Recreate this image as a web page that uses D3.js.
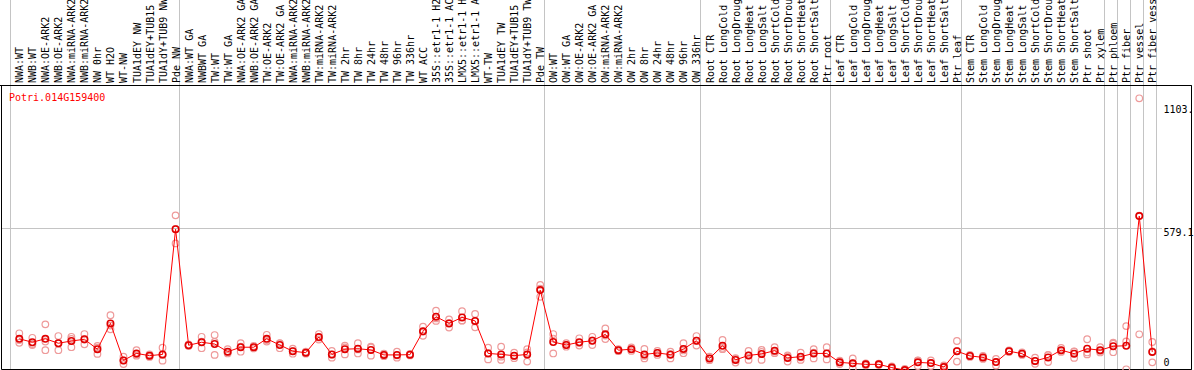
<!DOCTYPE html>
<html>
<head>
<meta charset="utf-8">
<script src="https://cdn.jsdelivr.net/npm/d3@7/dist/d3.min.js"></script>
<style>
  body { margin: 0; background: #fff; }
  text { font-family: "DejaVu Sans Mono", monospace; font-size: 10px; }
</style>
</head>
<body>
<div id="chart"></div>
<script>
// sample names, in plot order
const samples = [
  "NWA:WT", "NWB:WT", "NWA:OE-ARK2", "NWB:OE-ARK2", "NWA:miRNA-ARK2", "NWB:miRNA-ARK2",
  "NW 0hr", "WT H2O", "WT-NW", "TUA1dEY NW", "TUA1dEY+TUB15 NW", "TUA1dY+TUB9 NW", "Pde NW",
  "NWA:WT GA", "NWBWT GA", "TW:WT", "TW:WT GA", "NWA:OE-ARK2 GA", "NWB:OE-ARK2 GA",
  "TW:OE-ARK2", "TW:OE-ARK2 GA", "NWA:miRNA-ARK2 GA", "NWB:miRNA-ARK2 GA", "TW:miRNA-ARK2",
  "TW:miRNA-ARK2", "TW 2hr", "TW 8hr", "TW 24hr", "TW 48hr", "TW 96hr", "TW 336hr", "WT ACC",
  "35S::etr1-1 H2O", "35S::etr1-1 ACC", "LMX5::etr1-1 H2O", "LMX5::etr1-1 ACC", "WT-TW",
  "TUA1dEY TW", "TUA1dEY+TUB15 TW", "TUA1dY+TUB9 TW", "Pde TW",
  "OW:WT", "OW:WT GA", "OW:OE-ARK2", "OW:OE-ARK2 GA", "OW:miRNA-ARK2", "OW:miRNA-ARK2",
  "OW 2hr", "OW 8hr", "OW 24hr", "OW 48hr", "OW 96hr", "OW 336hr",
  "Root CTR", "Root LongCold", "Root LongDrought", "Root LongHeat", "Root LongSalt",
  "Root ShortCold", "Root ShortDrought", "Root ShortHeat", "Root ShortSalt", "Ptr root",
  "Leaf CTR", "Leaf LongCold", "Leaf LongDrought", "Leaf LongHeat", "Leaf LongSalt",
  "Leaf ShortCold", "Leaf ShortDrought", "Leaf ShortHeat", "Leaf ShortSalt", "Ptr leaf",
  "Stem CTR", "Stem LongCold", "Stem LongDrought", "Stem LongHeat", "Stem LongSalt",
  "Stem ShortCold", "Stem ShortDrought", "Stem ShortHeat", "Stem ShortSalt", "Ptr shoot",
  "Ptr xylem", "Ptr phloem", "Ptr fiber", "Ptr vessel", "Ptr fiber vessel"
];

// how many samples in each experiment block
const groupSizes = [13, 28, 12, 10, 10, 11, 1, 1, 1, 1];

const geneId = "Potri.014G159400";

// mean expression per sample
const means = [
  135, 121, 135, 117, 126, 133, 93, 197, 48, 76, 67, 72, 576,
  109, 121, 114, 83, 101, 101, 135, 110, 85, 79, 142, 72, 93, 95, 90, 70, 70, 71, 165,
  224, 197, 221, 207, 76, 72, 67, 72, 331,
  122, 110, 121, 127, 153, 89, 93, 72, 78, 71, 94, 127,
  56, 107, 50, 68, 74, 87, 58, 63, 76, 76,
  40, 36, 32, 32, 19, 9, 40, 37, 21, 85,
  66, 60, 41, 85, 75, 46, 60, 89, 75, 95, 89,
  105, 107, 629, 82
];

// replicate values per sample
const reps = [
  [157, 130, 119], [139, 114, 110], [193, 124, 89], [146, 116, 89], [143, 134, 101],
  [154, 132, 113], [106, 99, 74], [230, 188, 173], [63, 48, 33], [89, 72, 67],
  [72, 67, 62], [99, 70, 47], [632, 577, 519],
  [112, 109, 106], [143, 123, 97], [150, 122, 70], [93, 80, 76], [117, 103, 83],
  [106, 101, 96], [151, 130, 124], [117, 116, 97], [95, 85, 75], [83, 79, 75],
  [154, 140, 132], [86, 71, 59], [107, 100, 72], [117, 92, 76], [103, 100, 67],
  [75, 70, 65], [83, 68, 59], [74, 71, 68], [184, 164, 147], [248, 217, 207],
  [213, 198, 180], [246, 209, 208], [235, 205, 181], [99, 77, 52], [103, 63, 50],
  [79, 65, 57], [93, 80, 43], [352, 337, 304],
  [154, 136, 76], [117, 110, 103], [137, 118, 108], [143, 128, 110], [177, 148, 134],
  [93, 89, 85], [100, 93, 86], [94, 66, 56], [86, 78, 70], [83, 74, 56],
  [117, 88, 77], [146, 127, 108],
  [63, 56, 49], [130, 98, 93], [57, 54, 39], [86, 68, 50], [90, 82, 50],
  [101, 83, 77], [68, 63, 43], [79, 60, 50], [93, 79, 56], [101, 75, 52],
  [47, 40, 33], [56, 36, 16], [36, 32, 28], [35, 32, 29], [24, 19, 14],
  [14, 9, 4], [48, 47, 25], [48, 38, 25], [28, 25, 10], [126, 86, 43],
  [70, 66, 62], [66, 60, 54], [54, 42, 27], [88, 85, 82], [80, 75, 70],
  [59, 45, 34], [70, 69, 41], [98, 87, 82], [83, 84, 58], [133, 80, 72],
  [101, 86, 80], [115, 119, 81], [186, 124, 12], [1103.4, 631, 153], [122, 84, 40]
];

// y axis ticks
const yTicks = [0, 579.1, 1103.4];
const gridValues = [579.1];

const width = 1194, height = 370;
const plot = { left: 1.5, right: 1191.5, top: 85.5, bottom: 369.5 };
const labelBase = 83;

const svg = d3.select("#chart").append("svg")
    .attr("width", width)
    .attr("height", height);

const x = d3.scaleBand()
    .domain(d3.range(samples.length))
    .range([10, 1156]);
const px = i => x(i) + 9.3;

const y = d3.scaleLinear()
    .domain([0, 1103.4])
    .range([372.3, 98.3]);

// block separators, start of each group plus the end
let starts = [0];
groupSizes.forEach(n => starts.push(starts[starts.length - 1] + n));
const sepX = i => (i < samples.length ? x(i) : x.range()[1]);

svg.append("g").selectAll("line")
    .data(starts)
    .enter().append("line")
    .attr("x1", d => Math.round(sepX(d)) + 0.5)
    .attr("x2", d => Math.round(sepX(d)) + 0.5)
    .attr("y1", 0)
    .attr("y2", plot.bottom)
    .attr("stroke", "#c4c4c4");

// horizontal grid
svg.append("g").selectAll("line")
    .data(gridValues)
    .enter().append("line")
    .attr("x1", plot.left)
    .attr("x2", 1162)
    .attr("y1", d => Math.round(y(d)) + 0.5)
    .attr("y2", d => Math.round(y(d)) + 0.5)
    .attr("stroke", "#c4c4c4");

// sample labels, vertical
svg.append("g").selectAll("text")
    .data(samples)
    .enter().append("text")
    .attr("transform", (d, i) => `translate(${px(i) + 4},${labelBase}) rotate(-90)`)
    .attr("fill", "#000")
    .text(d => d);

// frame
svg.append("path")
    .attr("d", `M0,${plot.top}H${plot.right}V${plot.bottom}H${plot.left}V${plot.top}`)
    .attr("fill", "none")
    .attr("stroke", "#000");

svg.append("text")
    .attr("x", 9)
    .attr("y", 101)
    .attr("fill", "#ff0000")
    .text(geneId);

// y labels, cut at 5 characters like the original
const tickDy = [-6.3, 7.5, 14.4];
svg.append("g").selectAll("text")
    .data(yTicks)
    .enter().append("text")
    .attr("x", 1163.5)
    .attr("y", (d, i) => y(d) + tickDy[i])
    .attr("fill", "#000")
    .text(d => String(d).slice(0, 5));

// replicates
const repPoints = [];
reps.forEach((r, i) => r.forEach(v => repPoints.push({ i: i, v: v })));
svg.append("g").selectAll("circle")
    .data(repPoints)
    .enter().append("circle")
    .attr("cx", d => px(d.i))
    .attr("cy", d => y(d.v))
    .attr("r", 3.3)
    .attr("fill", "none")
    .attr("stroke", "#ee9a9a")
    .attr("stroke-width", 1.2);

// mean line
const line = d3.line()
    .x((d, i) => px(i))
    .y(d => y(d));

svg.append("path")
    .datum(means)
    .attr("d", line)
    .attr("fill", "none")
    .attr("stroke", "#ff0000")
    .attr("stroke-width", 1);

svg.append("g").selectAll("circle")
    .data(means)
    .enter().append("circle")
    .attr("cx", (d, i) => px(i))
    .attr("cy", d => y(d))
    .attr("r", 3.2)
    .attr("fill", "none")
    .attr("stroke", "#e00000")
    .attr("stroke-width", 1.6);

// redraw right border on top of the tick labels
svg.append("line")
    .attr("x1", plot.right).attr("x2", plot.right)
    .attr("y1", plot.top).attr("y2", plot.bottom)
    .attr("stroke", "#000");
</script>
</body>
</html>
